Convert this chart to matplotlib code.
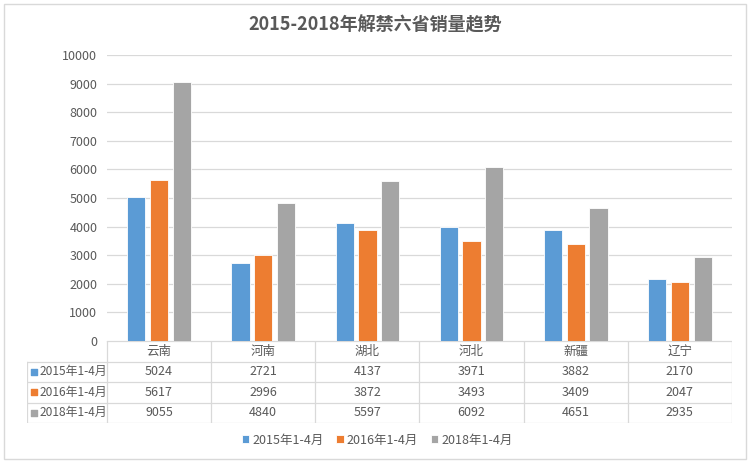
import numpy as np
import matplotlib.pyplot as plt
from matplotlib.patches import Rectangle

plt.rcParams['font.family'] = ['Noto Sans CJK SC', 'DejaVu Sans']

provinces = ['云南', '河南', '湖北', '河北', '新疆', '辽宁']
series_names = ['2015年1-4月', '2016年1-4月', '2018年1-4月']
sales_2015 = [5024, 2721, 4137, 3971, 3882, 2170]
sales_2016 = [5617, 2996, 3872, 3493, 3409, 2047]
sales_2018 = [9055, 4840, 5597, 6092, 4651, 2935]
colors = ['#5B9BD5', '#ED7D31', '#A5A5A5']
txt = '#595959'
grid = '#D9D9D9'

W, H = 750, 463
fig = plt.figure(figsize=(7.5, 4.63), dpi=100)

def box(l, t, r, b):
    return [l / W, (H - b) / H, (r - l) / W, (b - t) / H]

# outer border
fig.patches.append(Rectangle((4 / W, 4 / H), 742 / W, 455 / H, transform=fig.transFigure,
                             fill=False, edgecolor=grid, linewidth=1))

ax = fig.add_axes(box(107, 55, 732, 341))
x = np.arange(len(provinces)) + 0.5
width = 0.175
offset = 0.218
all_series = [sales_2015, sales_2016, sales_2018]
handles = []
for i, vals in enumerate(all_series):
    b = ax.bar(x + (i - 1) * offset, vals, width, color=colors[i], edgecolor='white',
               linewidth=0.6, label=series_names[i], zorder=3)
    handles.append(b)

ax.set_xlim(0, len(provinces))
ax.set_ylim(0, 10000)
ax.set_yticks(range(0, 10001, 1000))
ax.set_yticklabels([str(v) for v in range(0, 10001, 1000)], fontsize=9, color=txt)
ax.set_xticks([])
ax.tick_params(axis='y', length=0, pad=7)
ax.grid(axis='y', color=grid, linewidth=0.9, zorder=0)
for s in ax.spines.values():
    s.set_visible(False)
ax.patch.set_alpha(0)

# data table
tab = fig.add_axes(box(27, 341, 732, 423))
left = -80 / 104.2
tab.set_xlim(left, len(provinces))
tab.set_ylim(4, 0)
tab.axis('off')
lw = 0.9
tab.plot([0, len(provinces)], [0, 0], color=grid, lw=lw)
for r in range(1, 5):
    tab.plot([left, len(provinces)], [r, r], color=grid, lw=lw)
tab.plot([left, left], [1, 4], color=grid, lw=lw)
for c in range(len(provinces) + 1):
    tab.plot([c, c], [0, 4], color=grid, lw=lw)
for j, p in enumerate(provinces):
    tab.text(j + 0.5, 0.5, p, ha='center', va='center', fontsize=9, color=txt)
for i, vals in enumerate(all_series):
    for j, v in enumerate(vals):
        tab.text(j + 0.5, i + 1.5, str(v), ha='center', va='center', fontsize=9, color=txt)
    tab.scatter([left + 0.065], [i + 1.5], marker='s', s=20, color=colors[i])
    tab.text(left + 0.12, i + 1.5, series_names[i], ha='left', va='center', fontsize=8.6, color=txt)

fig.text(0.5, (H - 25) / H, '2015-2018年解禁六省销量趋势', ha='center', va='center',
         fontsize=13, fontweight='bold', color=txt)

leg = fig.legend(handles=handles, labels=series_names, loc='center', ncol=3,
                 bbox_to_anchor=(0.503, (H - 440) / H), frameon=False, fontsize=9,
                 handlelength=0.6, handleheight=0.6, handletextpad=0.25, columnspacing=1.0)
for t in leg.get_texts():
    t.set_color(txt)

fig.savefig('out.png', dpi=100)
